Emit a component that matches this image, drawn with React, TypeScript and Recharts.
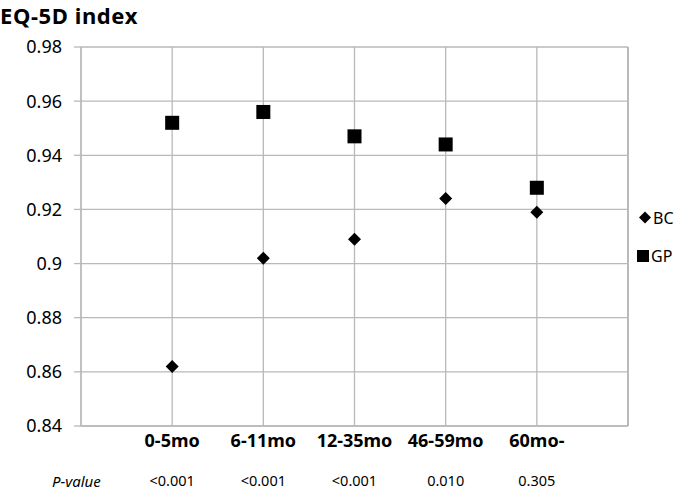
import React from "react";
import {
  ScatterChart,
  Scatter,
  XAxis,
  YAxis,
  CartesianGrid,
  ReferenceLine,
} from "recharts";

const categories = ["0-5mo", "6-11mo", "12-35mo", "46-59mo", "60mo-"];
const bcValues = [0.862, 0.902, 0.909, 0.924, 0.919];
const gpValues = [0.952, 0.956, 0.947, 0.944, 0.928];
const pValues = ["<0.001", "<0.001", "<0.001", "0.010", "0.305"];
const yTicks = [0.84, 0.86, 0.88, 0.9, 0.92, 0.94, 0.96, 0.98];

const bcData = categories.map((c, i) => ({ x: i + 1, y: bcValues[i], name: c }));
const gpData = categories.map((c, i) => ({ x: i + 1, y: gpValues[i], name: c }));

const FONT = "'Noto Sans', 'Open Sans', sans-serif";
const GRID = "#b9b9b9";

const Diamond = (props: any) => {
  const { cx, cy } = props;
  const r = 6.5;
  return (
    <polygon
      points={`${cx},${cy - r} ${cx + r},${cy} ${cx},${cy + r} ${cx - r},${cy}`}
      fill="#000"
    />
  );
};

const Square = (props: any) => {
  const { cx, cy } = props;
  const s = 14;
  return <rect x={cx - s / 2} y={cy - s / 2} width={s} height={s} fill="#000" />;
};

const CategoryTick = (props: any) => {
  const { x, y, payload } = props;
  const i = Math.round(payload.value) - 1;
  return (
    <g>
      <text
        x={x}
        y={y + 13}
        textAnchor="middle"
        fontFamily={FONT}
        fontWeight="bold"
        fontSize={18}
        fill="#000"
      >
        {categories[i]}
      </text>
      <text
        x={x}
        y={y + 52}
        textAnchor="middle"
        fontFamily={FONT}
        fontSize={14.5}
        fill="#000"
      >
        {pValues[i]}
      </text>
    </g>
  );
};

export default function App() {
  return (
    <div
      style={{
        position: "absolute",
        left: 0,
        top: 0,
        width: 685,
        height: 490,
        background: "#fff",
        fontFamily: FONT,
      }}
    >
      <div
        style={{
          position: "absolute",
          left: 0,
          top: 0,
          fontSize: 22,
          fontWeight: "bold",
          letterSpacing: 0.6,
          lineHeight: "30px",
          color: "#000",
        }}
      >
        EQ-5D index
      </div>
      <ScatterChart
        width={685}
        height={490}
        margin={{ top: 47, right: 57, bottom: 0, left: 0 }}
      >
        <CartesianGrid stroke={GRID} strokeWidth={1.3} />
        <XAxis
          type="number"
          dataKey="x"
          domain={[0, 6]}
          ticks={[1, 2, 3, 4, 5]}
          allowDecimals={false}
          axisLine={{ stroke: GRID, strokeWidth: 1.3 }}
          tickLine={false}
          tick={<CategoryTick />}
          height={64}
          interval={0}
        />
        <YAxis
          type="number"
          dataKey="y"
          domain={[0.84, 0.98]}
          ticks={yTicks}
          interval={0}
          width={81}
          axisLine={{ stroke: GRID, strokeWidth: 1.3 }}
          tickLine={{ stroke: GRID, strokeWidth: 1.3 }}
          tickSize={7}
          tickMargin={12}
          tick={{ fontFamily: FONT, fontSize: 18, fill: "#000" }}
          tickFormatter={(v: number) => String(Number(v.toFixed(2)))}
        />
        <ReferenceLine x={6} stroke={GRID} strokeWidth={2} />
        <Scatter name="BC" data={bcData} shape={<Diamond />} isAnimationActive={false} />
        <Scatter name="GP" data={gpData} shape={<Square />} isAnimationActive={false} />
      </ScatterChart>
      <div
        style={{
          position: "absolute",
          left: 52,
          top: 470,
          fontSize: 15,
          fontStyle: "italic",
          lineHeight: "22px",
          color: "#000",
        }}
      >
        P-value
      </div>
      <svg
        style={{ position: "absolute", left: 630, top: 200 }}
        width={55}
        height={80}
      >
        <polygon points="15,11.5 21,17.5 15,23.5 9,17.5" fill="#000" />
        <text x={23} y={24} fontFamily={FONT} fontSize={16} fill="#000">
          BC
        </text>
        <rect x={7} y={50} width={12} height={12} fill="#000" />
        <text x={21} y={62} fontFamily={FONT} fontSize={16} fill="#000">
          GP
        </text>
      </svg>
    </div>
  );
}
